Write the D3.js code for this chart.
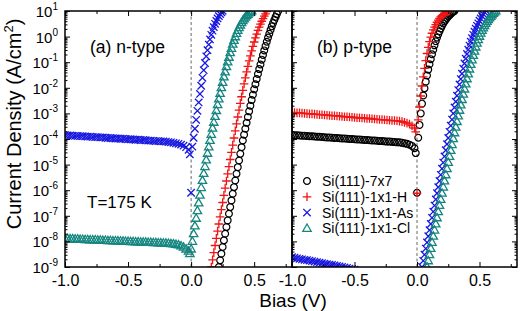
<!DOCTYPE html>
<html><head><meta charset="utf-8">
<script src="https://cdn.jsdelivr.net/npm/d3@7"></script>
<style>body{margin:0;background:#fff}svg{display:block;font-family:"Liberation Sans",Arial,sans-serif}</style>
</head><body><svg id="c" width="520" height="311"></svg>
<script>
// ---------------- data ----------------
const seriesNames = ["Si(111)-7x7","Si(111)-1x1-H","Si(111)-1x1-As","Si(111)-1x1-Cl"];
const seriesColors = ["#000000","#f01414","#1717e0","#14857f"];
const seriesShapes = ["circle","plus","times","triangle"];
const panelLabels = ["(a) n-type","(b) p-type"];
const tempLabel = "T=175 K";
const xTickValues = [-1.0,-0.5,0.0,0.5];
const xMinorTicks = [-0.75,-0.25,0.25,0.75];
const biasDomain = [-1.0,0.8];
const yExponents = [-9,-8,-7,-6,-5,-4,-3,-2,-1,0,1];

// reverse-bias voltage grid (V)
const biasRev = [-1.00,-0.98,-0.96,-0.94,-0.92,-0.90,-0.88,-0.86,-0.84,-0.82,-0.80,-0.78,-0.76,-0.74,-0.72,-0.70,-0.68,-0.66,-0.64,-0.62,-0.60,-0.58,-0.56,-0.54,-0.52,-0.50,-0.48,-0.46,-0.44,-0.42,-0.40,-0.38,-0.36,-0.34,-0.32,-0.30,-0.28,-0.26,-0.24,-0.22,-0.20,-0.18,-0.16,-0.14,-0.12,-0.10,-0.08,-0.06,-0.04,-0.02,-0.01];

// log10 of current density (A/cm^2), reverse bias
const revA_As = [-3.85,-3.86,-3.86,-3.87,-3.88,-3.88,-3.89,-3.89,-3.90,-3.91,-3.91,-3.92,-3.93,-3.93,-3.94,-3.94,-3.95,-3.96,-3.96,-3.97,-3.98,-3.98,-3.99,-3.99,-4.00,-4.01,-4.01,-4.02,-4.03,-4.03,-4.04,-4.04,-4.05,-4.06,-4.06,-4.07,-4.08,-4.08,-4.09,-4.09,-4.10,-4.12,-4.13,-4.15,-4.17,-4.19,-4.22,-4.26,-4.32,-4.42,-4.60];
const revA_Cl = [-7.89,-7.89,-7.90,-7.90,-7.91,-7.91,-7.92,-7.92,-7.93,-7.93,-7.94,-7.94,-7.94,-7.95,-7.95,-7.96,-7.96,-7.97,-7.97,-7.98,-7.98,-7.98,-7.99,-7.99,-8.00,-8.00,-8.01,-8.01,-8.02,-8.02,-8.03,-8.03,-8.03,-8.04,-8.04,-8.05,-8.05,-8.06,-8.06,-8.07,-8.07,-8.08,-8.09,-8.10,-8.12,-8.14,-8.18,-8.23,-8.30,-8.38,-8.48];
const revB_7x7 = [-3.84,-3.85,-3.85,-3.86,-3.87,-3.87,-3.88,-3.89,-3.89,-3.90,-3.91,-3.91,-3.92,-3.93,-3.94,-3.94,-3.95,-3.96,-3.96,-3.97,-3.98,-3.98,-3.99,-4.00,-4.00,-4.01,-4.02,-4.02,-4.03,-4.04,-4.04,-4.05,-4.06,-4.06,-4.07,-4.08,-4.08,-4.09,-4.10,-4.10,-4.11,-4.12,-4.13,-4.13,-4.15,-4.17,-4.19,-4.22,-4.27,-4.36,-4.55];
const revB_H = [-2.96,-2.97,-2.98,-2.98,-2.99,-3.00,-3.01,-3.02,-3.02,-3.03,-3.04,-3.05,-3.05,-3.06,-3.07,-3.08,-3.09,-3.09,-3.10,-3.11,-3.12,-3.13,-3.13,-3.14,-3.15,-3.16,-3.17,-3.17,-3.18,-3.19,-3.20,-3.20,-3.21,-3.22,-3.23,-3.24,-3.24,-3.25,-3.26,-3.27,-3.28,-3.28,-3.29,-3.30,-3.32,-3.35,-3.38,-3.42,-3.48,-3.57,-3.72];
const revB_As = [-8.62,-8.64,-8.66,-8.68,-8.70,-8.72,-8.73,-8.75,-8.77,-8.79,-8.81,-8.83,-8.85,-8.87,-8.89,-8.91,-8.92,-8.94,-8.96,-8.98,-9.00,-9.02,-9.04,-9.06,-9.08,-9.10];

// zero-bias points (log10 J)
const zeroA_As = -6.10;
const zeroB_7x7 = -6.10;
const zeroB_H = -6.12;

// forward bias [V, log10 J]
const fwdA_7x7 = [[0.22,-9.00],[0.23,-8.74],[0.24,-8.48],[0.25,-8.22],[0.26,-7.96],[0.27,-7.70],[0.28,-7.44],[0.29,-7.18],[0.30,-6.92],[0.31,-6.66],[0.32,-6.40],[0.33,-6.14],[0.34,-5.88],[0.35,-5.62],[0.36,-5.36],[0.37,-5.10],[0.38,-4.84],[0.39,-4.58],[0.40,-4.32],[0.41,-4.06],[0.42,-3.83],[0.43,-3.60],[0.44,-3.37],[0.45,-3.14],[0.46,-2.92],[0.47,-2.70],[0.48,-2.48],[0.49,-2.27],[0.50,-2.06],[0.51,-1.86],[0.52,-1.66],[0.53,-1.46],[0.54,-1.27],[0.55,-1.09],[0.56,-0.90],[0.57,-0.72],[0.58,-0.54],[0.59,-0.37],[0.60,-0.20],[0.61,-0.04],[0.62,0.11],[0.63,0.26],[0.64,0.40],[0.65,0.53],[0.66,0.65],[0.67,0.77],[0.68,0.88],[0.69,0.99]];
const fwdA_H = [[0.16,-9.00],[0.17,-8.72],[0.18,-8.44],[0.19,-8.16],[0.20,-7.88],[0.21,-7.60],[0.22,-7.32],[0.23,-7.04],[0.24,-6.76],[0.25,-6.48],[0.26,-6.20],[0.27,-5.92],[0.28,-5.64],[0.29,-5.36],[0.30,-5.08],[0.31,-4.80],[0.32,-4.52],[0.33,-4.24],[0.34,-3.96],[0.35,-3.68],[0.36,-3.41],[0.37,-3.14],[0.38,-2.87],[0.39,-2.61],[0.40,-2.35],[0.41,-2.10],[0.42,-1.85],[0.43,-1.61],[0.44,-1.38],[0.45,-1.16],[0.46,-0.95],[0.47,-0.75],[0.48,-0.56],[0.49,-0.38],[0.50,-0.21],[0.51,-0.05],[0.52,0.10],[0.53,0.24],[0.54,0.37],[0.55,0.49],[0.56,0.60],[0.57,0.70],[0.58,0.80],[0.59,0.89],[0.60,0.98]];
const fwdA_As = [[0.01,-4.30],[0.02,-3.95],[0.03,-3.60],[0.04,-3.25],[0.05,-2.90],[0.06,-2.57],[0.07,-2.24],[0.08,-1.92],[0.09,-1.61],[0.10,-1.31],[0.11,-1.03],[0.12,-0.77],[0.13,-0.53],[0.14,-0.31],[0.15,-0.11],[0.16,0.07],[0.17,0.23],[0.18,0.37],[0.19,0.50],[0.20,0.61],[0.21,0.71],[0.22,0.80],[0.23,0.88],[0.24,0.95],[0.25,1.01]];
const fwdA_Cl = [[0.00,-8.30],[0.01,-8.00],[0.02,-7.70],[0.03,-7.40],[0.04,-7.10],[0.05,-6.80],[0.06,-6.50],[0.07,-6.20],[0.08,-5.90],[0.09,-5.62],[0.10,-5.35],[0.11,-5.08],[0.12,-4.82],[0.13,-4.56],[0.14,-4.31],[0.15,-4.06],[0.16,-3.82],[0.17,-3.58],[0.18,-3.35],[0.19,-3.12],[0.20,-2.89],[0.21,-2.66],[0.22,-2.44],[0.23,-2.22],[0.24,-2.00],[0.25,-1.79],[0.26,-1.58],[0.27,-1.38],[0.28,-1.18],[0.29,-0.99],[0.30,-0.81],[0.31,-0.63],[0.32,-0.46],[0.33,-0.30],[0.34,-0.15],[0.35,-0.01],[0.36,0.12],[0.37,0.24],[0.38,0.35],[0.39,0.45],[0.40,0.54],[0.41,0.62],[0.42,0.69],[0.43,0.76],[0.44,0.82],[0.45,0.87],[0.46,0.92],[0.47,0.96],[0.48,1.00]];
const fwdB_7x7 = [[0.01,-3.95],[0.02,-3.45],[0.03,-3.00],[0.04,-2.62],[0.05,-2.30],[0.06,-2.02],[0.07,-1.76],[0.08,-1.52],[0.09,-1.29],[0.10,-1.08],[0.11,-0.88],[0.12,-0.69],[0.13,-0.51],[0.14,-0.34],[0.15,-0.18],[0.16,-0.04],[0.17,0.09],[0.18,0.21],[0.19,0.32],[0.20,0.42],[0.21,0.51],[0.22,0.59],[0.23,0.66],[0.24,0.73],[0.25,0.79],[0.26,0.84],[0.27,0.89],[0.28,0.93],[0.29,0.97],[0.30,1.00]];
const fwdB_H = [[0.01,-3.25],[0.02,-2.75],[0.03,-2.32],[0.04,-1.93],[0.05,-1.57],[0.06,-1.24],[0.07,-0.94],[0.08,-0.66],[0.09,-0.42],[0.10,-0.20],[0.11,-0.02],[0.12,0.13],[0.13,0.26],[0.14,0.37],[0.15,0.47],[0.16,0.56],[0.17,0.64],[0.18,0.71],[0.19,0.77],[0.20,0.82],[0.21,0.86],[0.22,0.90],[0.23,0.93],[0.24,0.96],[0.25,0.98],[0.26,1.00]];
const fwdB_As = [[0.04,-9.00],[0.05,-8.76],[0.06,-8.52],[0.07,-8.28],[0.08,-8.04],[0.09,-7.80],[0.10,-7.56],[0.11,-7.32],[0.12,-7.08],[0.13,-6.84],[0.14,-6.60],[0.15,-6.36],[0.16,-6.12],[0.17,-5.88],[0.18,-5.64],[0.19,-5.40],[0.20,-5.16],[0.21,-4.92],[0.22,-4.68],[0.23,-4.44],[0.24,-4.20],[0.25,-3.96],[0.26,-3.72],[0.27,-3.48],[0.28,-3.24],[0.29,-3.00],[0.30,-2.77],[0.31,-2.54],[0.32,-2.31],[0.33,-2.09],[0.34,-1.87],[0.35,-1.66],[0.36,-1.45],[0.37,-1.25],[0.38,-1.05],[0.39,-0.86],[0.40,-0.68],[0.41,-0.51],[0.42,-0.35],[0.43,-0.20],[0.44,-0.06],[0.45,0.07],[0.46,0.19],[0.47,0.31],[0.48,0.42],[0.49,0.52],[0.50,0.62],[0.51,0.71],[0.52,0.80],[0.53,0.88],[0.54,0.96],[0.55,1.03]];
const fwdB_Cl = [[0.08,-9.00],[0.09,-8.76],[0.10,-8.52],[0.11,-8.28],[0.12,-8.04],[0.13,-7.80],[0.14,-7.56],[0.15,-7.32],[0.16,-7.08],[0.17,-6.84],[0.18,-6.60],[0.19,-6.36],[0.20,-6.12],[0.21,-5.88],[0.22,-5.64],[0.23,-5.40],[0.24,-5.16],[0.25,-4.92],[0.26,-4.68],[0.27,-4.45],[0.28,-4.22],[0.29,-3.99],[0.30,-3.76],[0.31,-3.54],[0.32,-3.32],[0.33,-3.10],[0.34,-2.88],[0.35,-2.67],[0.36,-2.46],[0.37,-2.25],[0.38,-2.05],[0.39,-1.85],[0.40,-1.65],[0.41,-1.46],[0.42,-1.27],[0.43,-1.09],[0.44,-0.91],[0.45,-0.74],[0.46,-0.57],[0.47,-0.41],[0.48,-0.26],[0.49,-0.12],[0.50,0.01],[0.51,0.13],[0.52,0.24],[0.53,0.34],[0.54,0.43],[0.55,0.51],[0.56,0.59],[0.57,0.66],[0.58,0.73],[0.59,0.79],[0.60,0.85],[0.61,0.90],[0.62,0.95],[0.63,1.00]];

// ---------------- drawing ----------------
const svg = d3.select("#c");
const TOP = 11, BOT = 267;
const y = d3.scaleLog().domain([1e-9, 10]).range([BOT, TOP]);
const xA = d3.scaleLinear().domain(biasDomain).range([65, 292]);
const xB = d3.scaleLinear().domain(biasDomain).range([292, 517]);

const zip = (vs, js) => vs.slice(0, Math.min(vs.length, js.length)).map((v, i) => [v, js[i]]);

const panels = [
  {x: xA, label: panelLabels[0], sets: [
    {s: 0, pts: fwdA_7x7},
    {s: 1, pts: fwdA_H},
    {s: 2, pts: zip(biasRev, revA_As).concat([[0, zeroA_As]], fwdA_As)},
    {s: 3, pts: zip(biasRev, revA_Cl).concat(fwdA_Cl)}
  ]},
  {x: xB, label: panelLabels[1], sets: [
    {s: 0, pts: zip(biasRev, revB_7x7).concat([[0, zeroB_7x7]], fwdB_7x7)},
    {s: 1, pts: zip(biasRev, revB_H).concat([[0, zeroB_H]], fwdB_H)},
    {s: 2, pts: zip(biasRev, revB_As).concat(fwdB_As)},
    {s: 3, pts: fwdB_Cl}
  ]}
];

function shapePath(shape) {
  switch (shape) {
    case "circle": { const r = 3.4; return `M${r},0A${r},${r} 0 1,1 ${-r},0A${r},${r} 0 1,1 ${r},0Z`; }
    case "plus": { const a = 4.3; return `M${-a},0H${a}M0,${-a}V${a}`; }
    case "times": { const b = 3.7; return `M${-b},${-b}L${b},${b}M${-b},${b}L${b},${-b}`; }
    default: return "M0,-4.4L4.2,2.9L-4.2,2.9Z";
  }
}

const minorY = [];
yExponents.slice(0, -1).forEach(e => { for (let k = 2; k <= 9; k++) minorY.push(k * Math.pow(10, e)); });
const majorY = yExponents.map(e => Math.pow(10, e));

panels.forEach((p, pi) => {
  const x = p.x;
  const [x0, x1] = x.range();
  const g = svg.append("g");
  const clipId = "clip" + pi;
  svg.append("clipPath").attr("id", clipId).append("rect")
    .attr("x", x0).attr("y", TOP).attr("width", x1 - x0).attr("height", BOT - TOP);

  // dashed zero line
  g.append("line").attr("x1", x(0)).attr("x2", x(0)).attr("y1", TOP).attr("y2", BOT)
    .attr("stroke", "#666").attr("stroke-width", 1).attr("stroke-dasharray", "3,2.5");

  // data
  const dg = g.append("g").attr("clip-path", `url(#${clipId})`);
  p.sets.forEach(set => {
    dg.append("g").selectAll("path").data(set.pts).join("path")
      .attr("transform", d => `translate(${x(d[0])},${y(Math.pow(10, d[1]))})`)
      .attr("d", shapePath(seriesShapes[set.s]))
      .attr("fill", "none")
      .attr("stroke", seriesColors[set.s])
      .attr("stroke-width", set.s === 0 ? 1.2 : 1.3);
  });

  // axes
  const fmt = d => d.toFixed(1);
  const bottom = g.append("g").attr("transform", `translate(0,${BOT})`)
    .call(d3.axisBottom(x).tickValues(xTickValues).tickSize(-5).tickSizeOuter(0).tickPadding(8).tickFormat(fmt));
  g.append("g").attr("transform", `translate(0,${BOT})`)
    .call(d3.axisBottom(x).tickValues(xMinorTicks.filter(v => v < biasDomain[1])).tickSize(-3).tickSizeOuter(0).tickFormat(""));
  g.append("g").attr("transform", `translate(0,${TOP})`)
    .call(d3.axisTop(x).tickValues(xTickValues).tickSize(-5).tickSizeOuter(0).tickFormat(""));
  g.append("g").attr("transform", `translate(0,${TOP})`)
    .call(d3.axisTop(x).tickValues(xMinorTicks.filter(v => v < biasDomain[1])).tickSize(-3).tickSizeOuter(0).tickFormat(""));
  g.append("g").attr("transform", `translate(${x0},0)`)
    .call(d3.axisLeft(y).tickValues(majorY).tickSize(-5).tickSizeOuter(0).tickFormat(""));
  g.append("g").attr("transform", `translate(${x0},0)`)
    .call(d3.axisLeft(y).tickValues(minorY).tickSize(-2.5).tickSizeOuter(0).tickFormat(""));
  if (pi === 1) {
    g.append("g").attr("transform", `translate(${x1},0)`)
      .call(d3.axisRight(y).tickValues(majorY).tickSize(-5).tickSizeOuter(0).tickFormat(""));
    g.append("g").attr("transform", `translate(${x1},0)`)
      .call(d3.axisRight(y).tickValues(minorY).tickSize(-2.5).tickSizeOuter(0).tickFormat(""));
  }
  g.selectAll(".domain").remove();
  g.selectAll(".tick line").attr("stroke", "#000").attr("stroke-width", 1);
  bottom.selectAll(".tick text").attr("font-size", 16).attr("fill", "#000")
    .attr("font-family", '"Liberation Sans",Arial,sans-serif');

  // frame
  g.append("rect").attr("x", x0).attr("y", TOP).attr("width", x1 - x0).attr("height", BOT - TOP)
    .attr("fill", "none").attr("stroke", "#000").attr("stroke-width", 1.5);

  // panel label
  g.append("text").attr("x", x0 + 25).attr("y", 53).attr("font-size", 17.5).text(p.label);
});

// y tick labels (panel a)
const yl = svg.append("g");
yExponents.forEach(e => {
  const t = yl.append("text").attr("x", 58).attr("y", y(Math.pow(10, e)) + 6)
    .attr("text-anchor", "end").attr("font-size", 15);
  t.append("tspan").text("10");
  t.append("tspan").attr("font-size", 10).attr("dy", -7).text(String(e));
});

// temperature label
svg.append("text").attr("x", 87).attr("y", 208).attr("font-size", 17).text(tempLabel);

// axis titles
svg.append("text").attr("x", 293).attr("y", 307).attr("text-anchor", "middle")
  .attr("font-size", 19).text("Bias (V)");
const yt = svg.append("text").attr("transform", "translate(21,124) rotate(-90)")
  .attr("text-anchor", "middle").attr("font-size", 20);
yt.append("tspan").text("Current Density (A/cm");
yt.append("tspan").attr("font-size", 13).attr("dy", -8).text("2");
yt.append("tspan").attr("dy", 8).text(")");

// legend
const lg = svg.append("g");
seriesNames.forEach((name, i) => {
  const yy = 181 + i * 15.8;
  lg.append("path").attr("transform", `translate(307,${yy})`).attr("d", shapePath(seriesShapes[i]))
    .attr("fill", "none").attr("stroke", seriesColors[i]).attr("stroke-width", 1.3);
  lg.append("text").attr("x", 322).attr("y", yy + 5).attr("font-size", 14).text(name);
});
</script>
</body></html>
